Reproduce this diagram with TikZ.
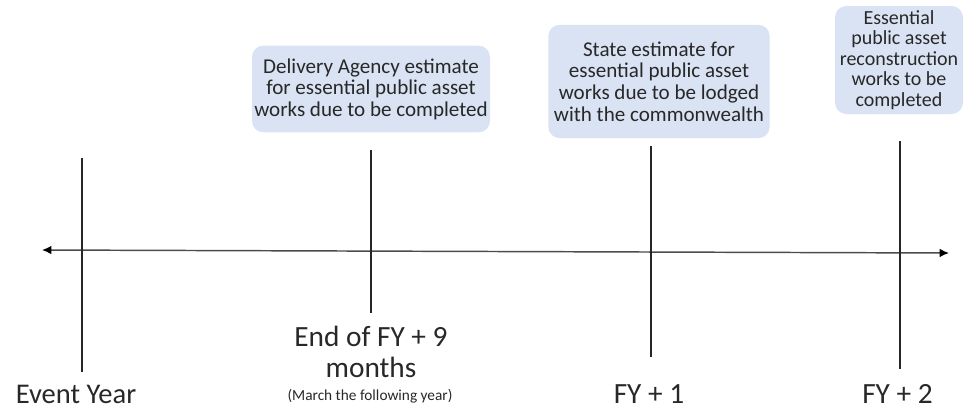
\documentclass[tikz,border=0pt]{standalone}
\usepackage{fontspec}
\setmainfont{Carlito}
\usetikzlibrary{arrows.meta}

\definecolor{notefill}{RGB}{218,227,243}
\definecolor{inkgray}{RGB}{40,40,40}

\begin{document}
\begin{tikzpicture}[x=0.75pt,y=-0.75pt,
  note/.style={fill=notefill,rounded corners=8.5pt,align=center,inner sep=0pt,
    text=inkgray,font=\fontsize{15.8}{16.2}\selectfont},
  when/.style={align=center,text=inkgray,font=\fontsize{22}{23.5}\selectfont},
  tick/.style={black!85,line width=0.8pt},
  axis/.style={black!70,line width=1.1pt,
    {Latex[length=7pt,width=6.5pt,color=black]}-{Latex[length=7pt,width=6.5pt,color=black]}}]
\useasboundingbox (0,0) rectangle (964,412);

% time line
\coordinate (left) at (42,250);
\coordinate (right) at (949,253);
\draw[axis] (left) -- (right);

% ticks
\foreach \n/\x/\top/\bot in {ev/82/158/372, nine/371/150/313, one/651/146/357, two/900/141/369}{
  \coordinate (\n top) at (\x,\top);
  \coordinate (\n bot) at (\x,\bot);
  \draw[tick] (\n top) -- (\n bot);
}

% notes above the line
\node[note,minimum width=178.5pt,minimum height=65pt] (agency) at (371,89)
  {Delivery Agency estimate\\for essential public asset\\works due to be completed};
\node[note,minimum width=166pt,minimum height=85pt] (state) at (659,81.5)
  {State estimate for\\essential public asset\\works due to be lodged\\with the commonwealth};
\node[note,minimum width=96pt,minimum height=81pt,font=\fontsize{15}{15.3}\selectfont] (works) at (899,60)
  {Essential\\public asset\\reconstruction\\works to be\\completed};

% labels below the line
\node[when,font=\fontsize{21.4}{23}\selectfont] (event) at (76,394) {Event Year};
\node[when] (endfy) at (371,352) {End of FY + 9\\months};
\node[font=\fontsize{11.5}{13}\selectfont,text=inkgray] (march) at (370,396) {(March the following year)};
\node[when] (fyone) at (649,394) {FY + 1};
\node[when] (fytwo) at (897.5,394) {FY + 2};
\end{tikzpicture}
\end{document}
